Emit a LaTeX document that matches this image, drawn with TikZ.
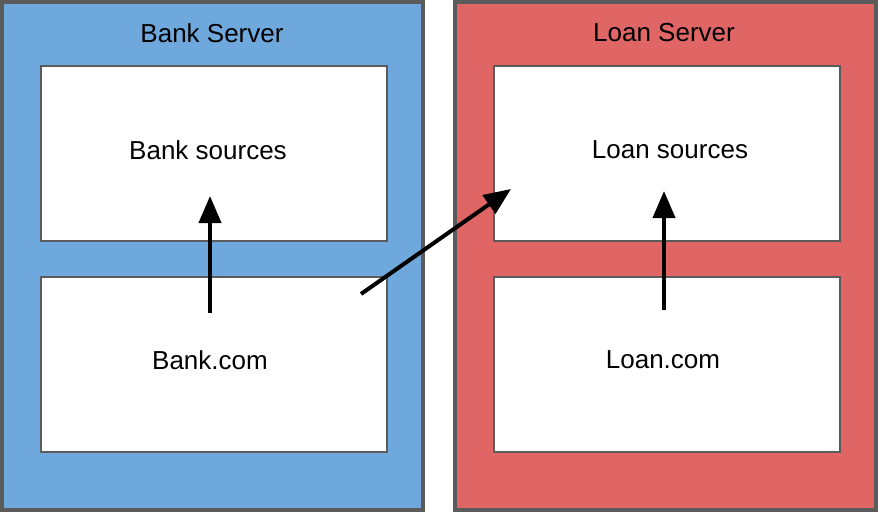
\documentclass[tikz,border=0pt]{standalone}
\usepackage{fontspec}
\setmainfont{Liberation Sans}
\usetikzlibrary{arrows.meta}
\definecolor{bankblue}{HTML}{6FA8DC}
\definecolor{loanred}{HTML}{E06666}
\definecolor{edgegray}{HTML}{5B5B5B}
\tikzset{
  server/.style={draw=edgegray, line width=4pt},
  inner/.style={draw=edgegray, fill=white, line width=2.5pt, minimum width=346pt, minimum height=175pt, anchor=north west},
  lbl/.style={font=\fontsize{26}{31}\selectfont, text=black, inner sep=0pt},
  conn/.style={line width=4pt, -{Triangle[length=27pt,width=22pt]}, black},
}
\begin{document}
\begin{tikzpicture}[x=1pt,y=-1pt]
\useasboundingbox (0,0) rectangle (880,514);
% servers
\draw[server, fill=bankblue] (2,2) rectangle (423,510);
\draw[server, fill=loanred] (454.5,2) rectangle (876,510);
\node[lbl] (banktitle) at (212,33) {Bank Server};
\node[lbl] (loantitle) at (664,33) {Loan Server};
% inner boxes
\node[inner] (banksrc) at (39.5,64.5) {};
\node[inner] (bankcom) at (39.5,275.5) {};
\node[inner] (loansrc) at (492.5,64.5) {};
\node[inner] (loancom) at (492.5,275.5) {};
\node[lbl] (banksrctxt) at (208,150) {Bank sources};
\node[lbl] (bankcomtxt) at (210,360) {Bank.com};
\node[lbl] (loansrctxt) at (670,150) {Loan sources};
\node[lbl] (loancomtxt) at (663,360) {Loan.com};
% connector endpoints
\coordinate (a1s) at (210,313);
\coordinate (a1e) at (210,196);
\coordinate (a2s) at (664,310);
\coordinate (a2e) at (664,191);
\coordinate (a3s) at (361,294);
\coordinate (a3e) at (511,189);
\draw[conn] (a1s) -- (a1e);
\draw[conn] (a2s) -- (a2e);
\draw[conn] (a3s) -- (a3e);
\end{tikzpicture}
\end{document}
